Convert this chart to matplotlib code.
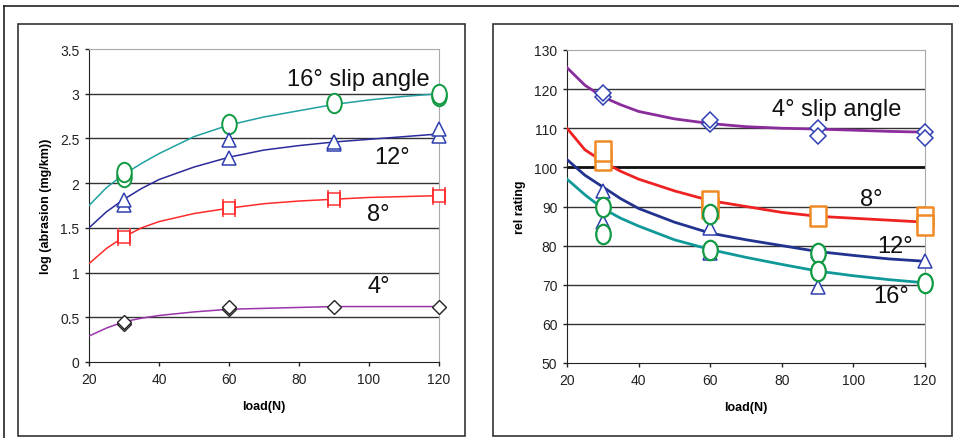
import numpy as np
import matplotlib.pyplot as plt
from matplotlib.path import Path
from matplotlib.patches import Rectangle
from matplotlib.lines import Line2D

plt.rcParams['font.family'] = ['Liberation Sans', 'DejaVu Sans']

# curvas ajustadas
carga = [20, 25, 30, 35, 40, 50, 60, 70, 80, 90, 100, 110, 120]

abr_16 = [1.75, 1.95, 2.1, 2.22, 2.33, 2.52, 2.65, 2.74, 2.81, 2.88, 2.93, 2.97, 3.0]
abr_12 = [1.5, 1.68, 1.82, 1.94, 2.04, 2.18, 2.29, 2.37, 2.42, 2.46, 2.49, 2.52, 2.55]
abr_8 = [1.1, 1.27, 1.4, 1.5, 1.57, 1.66, 1.72, 1.77, 1.8, 1.82, 1.84, 1.85, 1.86]
abr_4 = [0.29, 0.38, 0.45, 0.49, 0.52, 0.56, 0.59, 0.6, 0.61, 0.62, 0.62, 0.62, 0.62]

rel_4 = [125.5, 121, 118, 116, 114.3, 112.4, 111.2, 110.4, 110, 109.8, 109.5, 109.2, 109]
rel_8 = [110, 104.5, 101.5, 99, 97, 94, 91.5, 90, 88.5, 87.5, 87, 86.5, 86]
rel_12 = [102, 98, 95, 92, 89.5, 86, 83.2, 81.5, 80, 78.5, 77.5, 76.6, 76]
rel_16 = [97, 93, 89.5, 87, 85, 81.5, 79, 77, 75.2, 73.5, 72.3, 71.3, 70.5]

# puntos medidos
abr_16_x = [30, 30, 60, 90, 120, 120]
abr_16_y = [2.07, 2.12, 2.66, 2.9, 2.97, 3.0]
abr_12_x = [30, 30, 60, 60, 90, 90, 120, 120]
abr_12_y = [1.76, 1.81, 2.28, 2.48, 2.44, 2.46, 2.53, 2.6]
abr_8_x = [30, 60, 90, 120]
abr_8_y = [1.4, 1.72, 1.82, 1.86]
abr_4_x = [30, 30, 60, 60, 90, 120]
abr_4_y = [0.42, 0.45, 0.59, 0.61, 0.62, 0.62]

rel_4_x = [30, 30, 60, 60, 90, 90, 120, 120]
rel_4_y = [118, 119, 111, 112, 110, 108, 109, 107.5]
rel_8_x = [30, 30, 60, 60, 90, 120, 120]
rel_8_y = [101.8, 104.2, 89.5, 91.5, 87.5, 87.2, 85.3]
rel_12_x = [30, 30, 60, 60, 90, 90, 120]
rel_12_y = [94, 86, 84.5, 78, 78.5, 69.5, 76]
rel_16_x = [30, 30, 60, 60, 90, 90, 120]
rel_16_y = [90, 83, 88, 79, 78, 73.5, 70.5]

x_ticks = [20, 40, 60, 80, 100, 120]

# marcadores propios: elipse "O" y cuadrado con barras laterales
circ = Path.unit_circle()
elipse = Path(circ.vertices * [0.75, 1.0], circ.codes)
cuad = Path([(-0.5, -0.5), (0.5, -0.5), (0.5, 0.5), (-0.5, 0.5), (-0.5, -0.5),
             (-0.5, -0.7), (-0.5, 0.7), (0.5, -0.7), (0.5, 0.7)],
            [Path.MOVETO, Path.LINETO, Path.LINETO, Path.LINETO, Path.CLOSEPOLY,
             Path.MOVETO, Path.LINETO, Path.MOVETO, Path.LINETO])
rect = Path([(-0.42, -0.5), (0.42, -0.5), (0.42, 0.5), (-0.42, 0.5), (-0.42, -0.5)],
            [Path.MOVETO, Path.LINETO, Path.LINETO, Path.LINETO, Path.CLOSEPOLY])

fig = plt.figure(figsize=(9.59, 4.39), dpi=100)

# marcos de la pagina
fig.add_artist(Line2D([4 / 959, 1], [1 - 7 / 439, 1 - 7 / 439], color="#222222", lw=1.2))
fig.add_artist(Line2D([4 / 959, 4 / 959], [0, 1 - 7 / 439], color="#222222", lw=1.2))
fig.add_artist(Rectangle((18 / 959, 2 / 439), 447 / 959, 412 / 439, fill=False,
                         ec="#333333", lw=1.2))
fig.add_artist(Rectangle((493 / 959, 2 / 439), 459 / 959, 412 / 439, fill=False,
                         ec="#333333", lw=1.2))

ax1 = fig.add_axes([89 / 959, 1 - 363 / 439, 350 / 959, 313 / 439])
ax2 = fig.add_axes([567 / 959, 1 - 364 / 439, 358 / 959, 313 / 439])


def estilo(ax, ylim, yticks, ylabel):
    ax.set_xlim(20, 120)
    ax.set_ylim(*ylim)
    ax.set_xticks(x_ticks)
    ax.set_yticks(yticks)
    for y in yticks[1:-1]:
        ax.axhline(y, color="#333333", lw=1, zorder=1)
    for lado in ["top", "right"]:
        ax.spines[lado].set_color("#aaaaaa")
    for lado in ["left", "bottom"]:
        ax.spines[lado].set_color("#222222")
    ax.tick_params(direction="out", length=3, width=1, labelsize=10, pad=4,
                   colors="#222222")
    ax.set_xlabel("load(N)", fontsize=9, fontweight="bold", labelpad=10)
    ax.set_ylabel(ylabel, fontsize=9, fontweight="bold", labelpad=6)


# panel izquierdo
estilo(ax1, (0, 3.5), [0, 0.5, 1, 1.5, 2, 2.5, 3, 3.5], "log (abrasion (mg/km))")
ax1.set_yticklabels(["0", "0.5", "1", "1.5", "2", "2.5", "3", "3.5"])
ax1.plot(carga, abr_16, color="#20a0a0", lw=1.1, zorder=3)
ax1.plot(carga, abr_12, color="#2a2a9a", lw=1.1, zorder=3)
ax1.plot(carga, abr_8, color="#ff2a2a", lw=1.1, zorder=3)
ax1.plot(carga, abr_4, color="#9933aa", lw=1.1, zorder=3)
ax1.plot(abr_16_x, abr_16_y, ls="none", marker=elipse, ms=14, mfc="white", mec="#119944", mew=1.4, zorder=4, clip_on=False)
ax1.plot(abr_12_x, abr_12_y, ls="none", marker="^", ms=10, mfc="white", mec="#3040b0", mew=1.1, zorder=4, clip_on=False)
ax1.plot(abr_8_x, abr_8_y, ls="none", marker=cuad, ms=13, mfc="white", mec="#ff3333", mew=1.1, zorder=4, clip_on=False)
ax1.plot(abr_4_x, abr_4_y, ls="none", marker="D", ms=7, mfc="white", mec="#222222", mew=1.0, zorder=4, clip_on=False)
ax1.text(76.5, 3.17, "16° slip angle", fontsize=17, va="center", color="#111111", zorder=5)
ax1.text(101.5, 2.29, "12°", fontsize=17, va="center", color="#111111")
ax1.text(99.5, 1.65, "8°", fontsize=17, va="center", color="#111111")
ax1.text(99.5, 0.85, "4°", fontsize=17, va="center", color="#111111")

# panel derecho
estilo(ax2, (50, 130), [50, 60, 70, 80, 90, 100, 110, 120, 130], "rel rating")
ax2.axhline(100, color="#111111", lw=2, zorder=2)
ax2.plot(carga, rel_4, color="#8b2c9c", lw=2, zorder=3)
ax2.plot(carga, rel_8, color="#ee2222", lw=2, zorder=3)
ax2.plot(carga, rel_12, color="#22338f", lw=2, zorder=3)
ax2.plot(carga, rel_16, color="#119999", lw=2, zorder=3)
ax2.plot(rel_4_x, rel_4_y, ls="none", marker="D", ms=8, mfc="white", mec="#3040b0", mew=1.1, zorder=4, clip_on=False)
ax2.plot(rel_8_x, rel_8_y, ls="none", marker=rect, ms=14, mfc="white", mec="#f08a24", mew=1.8, zorder=4, clip_on=False)
ax2.plot(rel_12_x, rel_12_y, ls="none", marker="^", ms=10, mfc="white", mec="#3040b0", mew=1.1, zorder=4, clip_on=False)
ax2.plot(rel_16_x, rel_16_y, ls="none", marker=elipse, ms=14, mfc="white", mec="#119944", mew=1.6, zorder=4, clip_on=False)
ax2.text(77.3, 114.9, "4° slip angle", fontsize=17, va="center", color="#111111")
ax2.text(101.8, 91.9, "8°", fontsize=17, va="center", color="#111111")
ax2.text(106.6, 79.9, "12°", fontsize=17, va="center", color="#111111", zorder=5)
ax2.text(105.5, 67.1, "16°", fontsize=17, va="center", color="#111111")

fig.savefig("out.png", dpi=100)
